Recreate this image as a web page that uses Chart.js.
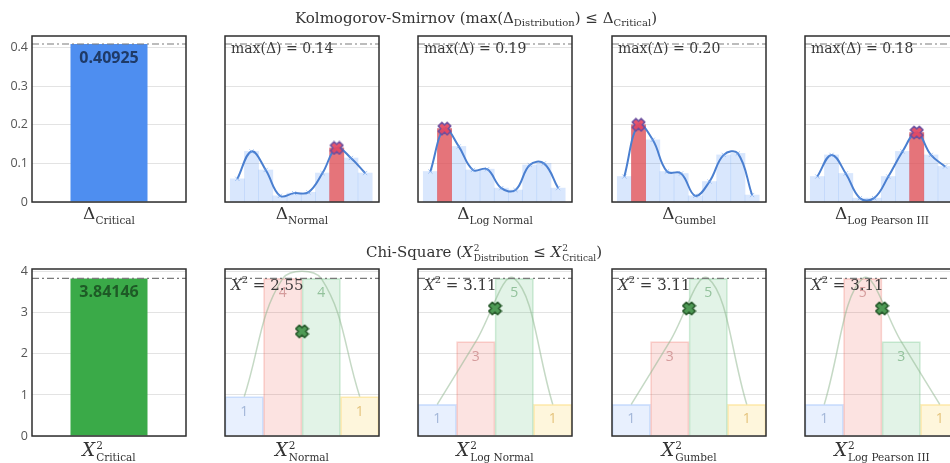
<!DOCTYPE html>
<html>
<head>
<meta charset="utf-8">
<script src="https://cdn.jsdelivr.net/npm/chart.js@4.4.1/dist/chart.umd.min.js"></script>
<style>
  html, body { margin: 0; padding: 0; background: #fff; overflow: hidden; }
  #fig { position: relative; width: 950px; height: 463px; overflow: hidden; }
  #fig canvas { position: absolute; }
  .txt { position: absolute; white-space: nowrap; transform: translateX(-50%);
         font-family: "DejaVu Serif", serif; color: #333; line-height: 20px; }
  .title { font-size: 15px; }
  .title sub { font-size: 10px; vertical-align: -3px; line-height: 0; }
  .dlab { font-size: 17px; }
  .dlab sub { font-size: 10.5px; vertical-align: -5px; line-height: 0; }
  .xlab { font-size: 18px; }
  .xi { font-style: italic; }
  .ss { display: inline-flex; flex-direction: column; font-size: 10.5px; line-height: 12px;
        vertical-align: 7px; margin-left: 1px; }
  .title .ss { font-size: 9px; line-height: 10px; vertical-align: 6px; }
</style>
</head>
<body>
<div id="fig"></div>
<script>
// critical values
const ksCritical = 0.40925;
const chiCritical = 3.84146;

// Kolmogorov-Smirnov deltas at each of the 10 sorted observations
const ksNormal       = [0.060, 0.131, 0.083, 0.016, 0.023, 0.025, 0.075, 0.14, 0.114, 0.075];
const ksLogNormal    = [0.079, 0.19, 0.144, 0.083, 0.085, 0.036, 0.031, 0.096, 0.100, 0.036];
const ksGumbel       = [0.066, 0.20, 0.161, 0.079, 0.074, 0.016, 0.053, 0.122, 0.126, 0.018];
const ksLogPearson   = [0.066, 0.122, 0.074, 0.010, 0.010, 0.066, 0.131, 0.18, 0.122, 0.092];
const ksMaxIndex     = [7, 1, 1, 7];
const ksMaxText      = ['0.14', '0.19', '0.20', '0.18'];

// Chi-square classes: observed counts and drawn bar heights
const chiCountsNormal     = [1, 4, 4, 1];
const chiCountsLogNormal  = [1, 3, 5, 1];
const chiCountsGumbel     = [1, 3, 5, 1];
const chiCountsLogPearson = [1, 5, 3, 1];
const chiBarsNormal       = [0.96, 3.84, 3.84, 0.96];
const chiBarsLogNormal    = [0.77, 2.30, 3.84, 0.77];
const chiBarsGumbel       = [0.77, 2.30, 3.84, 0.77];
const chiBarsLogPearson   = [0.77, 3.84, 2.30, 0.77];
const chiStats            = [2.55, 3.11, 3.11, 3.11];
const chiStatText         = ['2.55', '3.11', '3.11', '3.11'];

const distNames = ['Normal', 'Log Normal', 'Gumbel', 'Log Pearson III'];

Chart.defaults.font.family = "'Open Sans', sans-serif";

const fig = document.getElementById('fig');
const colLeft = [32, 225, 418, 612, 805];
const plotW = 154;
const rows = [{ top: 36, h: 166 }, { top: 269, h: 167 }];
const PAD = 12;

const chiFill  = ['rgba(66,133,244,0.12)', 'rgba(234,67,53,0.15)', 'rgba(52,168,83,0.14)', 'rgba(251,188,5,0.14)'];
const chiEdge  = ['rgba(66,133,244,0.22)', 'rgba(234,67,53,0.22)', 'rgba(52,168,83,0.22)', 'rgba(251,188,5,0.25)'];
const chiLabel = ['#a3b7d8', '#d59c9c', '#93c29c', '#e4c37c'];

function makeX(size, fill, stroke) {
  const c = document.createElement('canvas');
  c.width = size; c.height = size;
  const g = c.getContext('2d');
  const L = size / 2 - 1.2, w = size * 0.17;
  g.translate(size / 2, size / 2);
  g.rotate(Math.PI / 4);
  const p = [[-w,-L],[w,-L],[w,-w],[L,-w],[L,w],[w,w],[w,L],[-w,L],[-w,w],[-L,w],[-L,-w],[-w,-w]];
  g.beginPath();
  p.forEach(([x, y], i) => i ? g.lineTo(x, y) : g.moveTo(x, y));
  g.closePath();
  g.fillStyle = fill; g.fill();
  g.lineWidth = 1.5; g.lineJoin = 'round'; g.strokeStyle = stroke; g.stroke();
  return c;
}
const redX = makeX(15, 'rgba(230,70,95,0.92)', '#6d4f9e');
const greenX = makeX(15, '#4e9a55', '#27592b');

function makeCanvas(col, row) {
  const c = document.createElement('canvas');
  const r = rows[row];
  c.width = plotW + 38;
  c.height = r.h + PAD * 2;
  c.style.left = (colLeft[col] - 32) + 'px';
  c.style.top = (r.top - PAD) + 'px';
  fig.appendChild(c);
  return c;
}

function drawRich(ctx, x, y, parts) {
  ctx.textBaseline = 'alphabetic';
  ctx.textAlign = 'left';
  for (const [t, font, dy] of parts) {
    ctx.font = font;
    ctx.fillText(t, x, y + (dy || 0));
    x += ctx.measureText(t).width;
  }
}

// frame, critical dash-dot line, inner note and bar labels
function panelPlugin(cfg) {
  return {
    id: 'panelExtras',
    afterDatasetsDraw(chart) {
      const { ctx, chartArea: a, scales } = chart;
      ctx.save();
      // critical line
      const yc = scales.y.getPixelForValue(cfg.critical);
      ctx.strokeStyle = '#7a7a7a';
      ctx.lineWidth = 1.2;
      ctx.setLineDash([7, 3, 2, 3]);
      ctx.beginPath();
      ctx.moveTo(a.left, yc); ctx.lineTo(a.right, yc);
      ctx.stroke();
      ctx.setLineDash([]);
      // bar labels
      if (cfg.barLabels) {
        const meta = chart.getDatasetMeta(cfg.barLabels.dataset);
        ctx.textAlign = 'center';
        ctx.textBaseline = 'middle';
        meta.data.forEach((el, i) => {
          ctx.font = cfg.barLabels.font;
          ctx.fillStyle = cfg.barLabels.colors[i % cfg.barLabels.colors.length];
          ctx.fillText(cfg.barLabels.text[i], el.x, el.y + cfg.barLabels.dy);
        });
      }
      // note in upper left
      if (cfg.note) {
        ctx.fillStyle = '#3a3a3a';
        drawRich(ctx, a.left + 6, a.top + cfg.noteY, cfg.note);
      }
      // frame
      ctx.strokeStyle = '#2e2e2e';
      ctx.lineWidth = 1.5;
      ctx.strokeRect(a.left, a.top, a.right - a.left, a.bottom - a.top);
      ctx.restore();
    }
  };
}

function baseOptions(ymax, step, showTicks, xScale) {
  return {
    responsive: false,
    animation: false,
    devicePixelRatio: 1,
    events: [],
    layout: { padding: { left: 4, right: 6, top: PAD, bottom: PAD }, autoPadding: false },
    plugins: { legend: { display: false }, tooltip: { enabled: false } },
    scales: {
      x: xScale,
      y: {
        min: 0, max: ymax,
        ticks: { stepSize: step, includeBounds: false, display: showTicks, color: '#555', font: { size: 12.5 }, padding: 4 },
        grid: { color: '#e3e3e3', drawTicks: false },
        border: { display: false },
        afterFit(s) { s.width = 28; }
      }
    }
  };
}

// ---- row 1: Kolmogorov-Smirnov ----
new Chart(makeCanvas(0, 0), {
  type: 'bar',
  data: {
    labels: ['Critical'],
    datasets: [{ data: [ksCritical], backgroundColor: 'rgb(78,142,240)', barPercentage: 0.5, categoryPercentage: 1 }]
  },
  options: baseOptions(0.43, 0.1, true, { display: false }),
  plugins: [panelPlugin({
    critical: ksCritical,
    barLabels: { dataset: 0, text: ['0.40925'], colors: ['#1f3a66'], font: "bold 16px 'Open Sans'", dy: 14 }
  })]
});

[ksNormal, ksLogNormal, ksGumbel, ksLogPearson].forEach((vals, k) => {
  const pts = vals.map((v, i) => ({ x: i, y: v }));
  const mi = ksMaxIndex[k];
  const maxPt = [{ x: mi, y: vals[mi] }];
  new Chart(makeCanvas(k + 1, 0), {
    type: 'bar',
    data: {
      datasets: [
        { type: 'line', data: maxPt, showLine: false, pointStyle: redX, pointRadius: 7, order: 0 },
        { type: 'line', data: pts, borderColor: '#4a7fd0', borderWidth: 2, tension: 0.4,
          pointStyle: 'crossRot', pointRadius: 3, pointBorderWidth: 1,
          pointBorderColor: 'rgba(110,160,235,0.55)', pointBackgroundColor: 'rgba(0,0,0,0)', order: 1 },
        { data: maxPt, backgroundColor: 'rgba(234,72,72,0.72)', grouped: false,
          categoryPercentage: 1, barPercentage: 1, order: 2 },
        { data: pts, backgroundColor: 'rgba(66,133,244,0.2)', grouped: false,
          categoryPercentage: 1, barPercentage: 1, order: 3 }
      ]
    },
    options: baseOptions(0.43, 0.1, false, {
      type: 'linear', display: false, offset: false, min: -0.87, max: 9.98,
      ticks: { stepSize: 1, includeBounds: false }
    }),
    plugins: [panelPlugin({
      critical: ksCritical,
      note: [['max(Δ) = ' + ksMaxText[k], "14px 'DejaVu Serif'"]],
      noteY: 17
    })]
  });
});

// ---- row 2: Chi-square ----
new Chart(makeCanvas(0, 1), {
  type: 'bar',
  data: {
    labels: ['Critical'],
    datasets: [{ data: [chiCritical], backgroundColor: 'rgb(58,170,72)', barPercentage: 0.5, categoryPercentage: 1 }]
  },
  options: baseOptions(4.07, 1, true, { display: false }),
  plugins: [panelPlugin({
    critical: chiCritical,
    barLabels: { dataset: 0, text: ['3.84146'], colors: ['#1e5a26'], font: "bold 16px 'Open Sans'", dy: 14 }
  })]
});

const chiCounts = [chiCountsNormal, chiCountsLogNormal, chiCountsGumbel, chiCountsLogPearson];
[chiBarsNormal, chiBarsLogNormal, chiBarsGumbel, chiBarsLogPearson].forEach((bars, k) => {
  const pts = bars.map((v, i) => ({ x: i, y: v }));
  new Chart(makeCanvas(k + 1, 1), {
    type: 'bar',
    data: {
      datasets: [
        { type: 'line', data: [{ x: 1.5, y: chiStats[k] }], showLine: false, pointStyle: greenX, pointRadius: 7, order: 0 },
        { type: 'line', data: pts, borderColor: 'rgba(140,180,140,0.5)', borderWidth: 1.5, tension: 0.4, pointRadius: 0, order: 1 },
        { data: pts, backgroundColor: chiFill, borderColor: chiEdge, borderWidth: 1, grouped: false,
          categoryPercentage: 1, barPercentage: 1, order: 2 }
      ]
    },
    options: baseOptions(4.07, 1, false, {
      type: 'linear', display: false, offset: false, min: -0.5, max: 3.5,
      ticks: { stepSize: 1, includeBounds: false }
    }),
    plugins: [panelPlugin({
      critical: chiCritical,
      barLabels: { dataset: 2, text: chiCounts[k].map(String), colors: chiLabel, font: "14px 'Open Sans'", dy: 15 },
      note: [['X', "italic 15px 'DejaVu Serif'"], ['2', "10px 'DejaVu Serif'", -7],
             [' = ' + chiStatText[k], "15px 'DejaVu Serif'"]],
      noteY: 21
    })]
  });
});

// ---- titles and axis labels (HTML text) ----
function addText(html, cx, top, cls) {
  const d = document.createElement('div');
  d.className = 'txt ' + cls;
  d.style.left = cx + 'px';
  d.style.top = top + 'px';
  d.innerHTML = html;
  fig.appendChild(d);
}
addText('Kolmogorov-Smirnov (max(Δ<sub>Distribution</sub>) ≤ Δ<sub>Critical</sub>)', 476, 8, 'title');
addText('Chi-Square (<span class="xi">X</span><span class="ss"><span>2</span><span>Distribution</span></span> ≤ <span class="xi">X</span><span class="ss"><span>2</span><span>Critical</span></span>)', 484, 242, 'title');

const centers = colLeft.map(l => l + plotW / 2);
['Critical'].concat(distNames).forEach((n, i) => {
  addText('Δ<sub>' + n + '</sub>', centers[i], 203, 'dlab');
  addText('<span class="xi">X</span><span class="ss"><span>2</span><span>' + n + '</span></span>', centers[i], 439, 'xlab');
});
</script>
</body>
</html>
